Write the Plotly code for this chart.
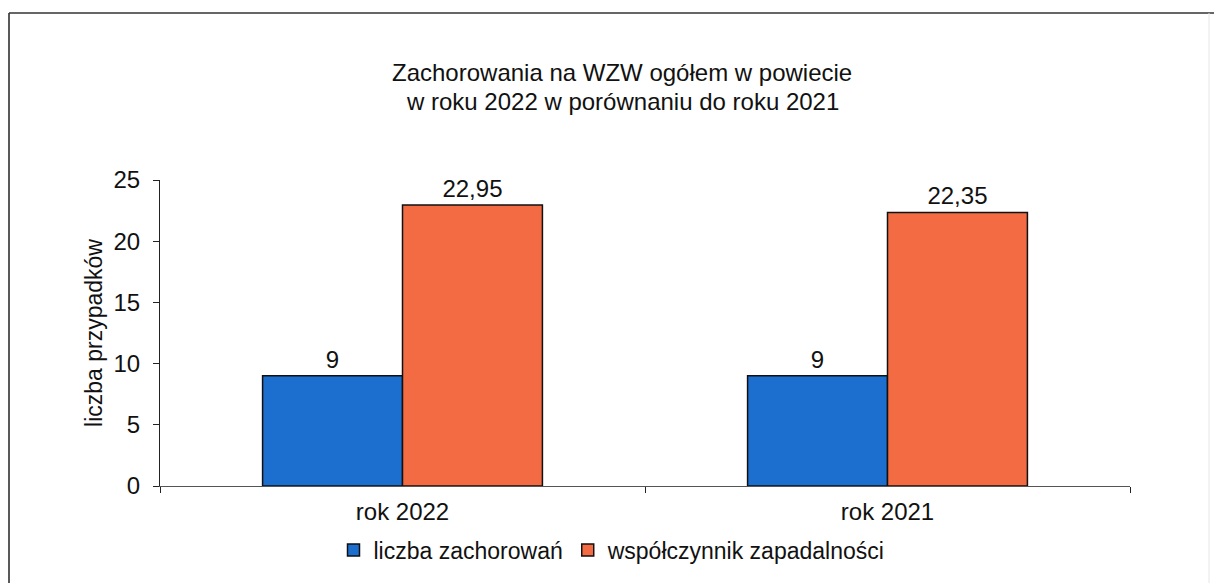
import plotly.graph_objects as go

categories = ["rok 2022", "rok 2021"]
series_names = ["liczba zachorowań", "współczynnik zapadalności"]
liczba = [9, 9]
wspolczynnik = [22.95, 22.35]
colors = ["#1c6fcf", "#f26b43"]
y_ticks = [0, 5, 10, 15, 20, 25]
title_lines = ["Zachorowania na WZW ogółem w powiecie",
               "w roku 2022 w porównaniu do roku 2021"]

W, H = 1214, 583
L, R, T, B = 160, 84, 180, 97
pw, ph = W - L - R, H - T - B

def px_x(p):
    return (p - L) / pw

def px_y(p):
    return (H - B - p) / ph

fig = go.Figure()
for name, vals, col in zip(series_names, [liczba, wspolczynnik], colors):
    fig.add_trace(go.Bar(
        x=categories, y=vals, name=name,
        marker=dict(color=col, line=dict(color="#111111", width=1.5)),
        texttemplate="%{y}", textposition="outside",
        textfont=dict(size=24, color="#111111"),
        cliponaxis=False,
    ))

font = "Liberation Sans, Arial, sans-serif"
fig.update_layout(
    width=W, height=H, autosize=False,
    margin=dict(l=L, r=R, t=T, b=B, autoexpand=False),
    paper_bgcolor="white", plot_bgcolor="white",
    separators=", ",
    font=dict(family=font, size=24, color="#111111"),
    barmode="group", bargap=0.423, bargroupgap=0,
    showlegend=True,
    legend=dict(
        orientation="h", x=612 / W, xanchor="center", xref="container",
        y=1 - 550 / H, yanchor="middle", yref="container",
        font=dict(size=23), traceorder="normal",
        itemwidth=30, tracegroupgap=0,
    ),
    xaxis=dict(
        showline=True, linecolor="#555555", linewidth=1.2,
        ticks="outside", tickson="boundaries", ticklen=6, tickcolor="#222222",
        showgrid=False, tickfont=dict(size=24), automargin=False,
        ticklabelstandoff=4,
    ),
    yaxis=dict(
        range=[0, 25], tickvals=y_ticks,
        showline=True, linecolor="#222222", linewidth=1,
        ticks="outside", ticklen=6, tickcolor="#222222",
        showgrid=False, zeroline=False, tickfont=dict(size=24), automargin=False,
        ticklabelstandoff=8,
        title=dict(text="liczba przypadków", font=dict(size=23), standoff=4),
    ),
)

for line, yc in zip(title_lines, [73, 101]):
    fig.add_annotation(text=line, xref="paper", yref="paper",
                       x=px_x(622), y=px_y(yc), xanchor="center", yanchor="middle",
                       showarrow=False, font=dict(size=24, color="#111111"))

fig.add_shape(type="line", xref="paper", yref="paper",
              x0=px_x(9), x1=px_x(9), y0=px_y(13), y1=px_y(583),
              line=dict(color="#222222", width=1.5))
fig.add_shape(type="line", xref="paper", yref="paper",
              x0=px_x(9), x1=px_x(1214), y0=px_y(13), y1=px_y(13),
              line=dict(color="#333333", width=1.5))
fig.add_shape(type="line", xref="paper", yref="paper",
              x0=px_x(1209), x1=px_x(1209), y0=px_y(13), y1=px_y(583),
              line=dict(color="#e6e6e6", width=1))

fig.write_html("out.html", config={"displayModeBar": False},
               post_script="document.body.style.margin='0';document.body.style.overflow='hidden';")
